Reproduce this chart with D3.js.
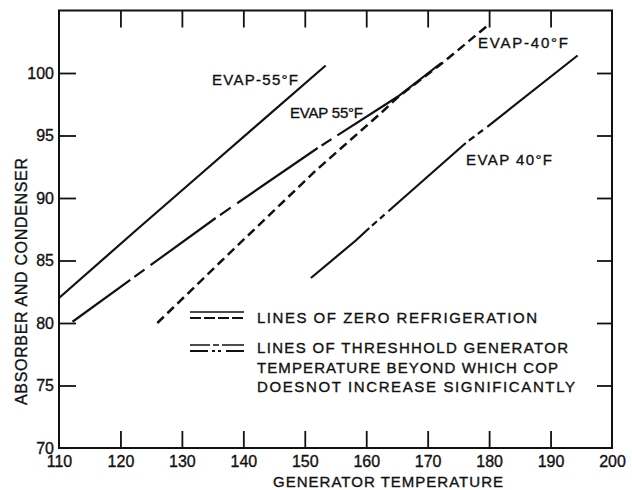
<!DOCTYPE html>
<html>
<head>
<meta charset="utf-8">
<script src="https://cdn.jsdelivr.net/npm/d3@7/dist/d3.min.js"></script>
<style>
  html, body { margin: 0; padding: 0; background: #fff; }
  svg { display: block; }
  text { font-family: "Liberation Sans", Arial, sans-serif; fill: #111; stroke: #111; stroke-width: 0.35px; }
</style>
</head>
<body>
<svg id="chart" width="632" height="490"></svg>
<script>
// Axis ticks
const xTicks = [110, 120, 130, 140, 150, 160, 170, 180, 190, 200];
const yTicks = [70, 75, 80, 85, 90, 95, 100];

// Curve labels
const curveNames = ["EVAP-55°F", "EVAP 55°F", "EVAP-40°F", "EVAP 40°F"];

// EVAP-55°F : solid
const evapNeg55X = [110.0, 122.5, 133.5, 153.4];
const evapNeg55Y = [82.0, 87.4, 92.1, 100.6];

// EVAP 55°F : solid with dash-dot breaks
const evap55X = [112.2, 135.5, 152.1, 165.1, 172.2];
const evap55Y = [80.1, 88.4, 94.0, 98.1, 100.8];
const evap55Breaks = [[121.6, 124.9], [135.5, 139.0], [152.1, 155.3]];

// EVAP-40°F : dashed
const evapNeg40X = [126.0, 136.3, 151.8, 162.4, 165.0, 172.9, 180.0];
const evapNeg40Y = [80.0, 84.9, 92.2, 96.8, 98.0, 101.0, 103.9];

// EVAP 40°F : solid with dash-dot breaks
const evap40X = [151.0, 158.3, 160.5, 176.2, 179.7, 194.4];
const evap40Y = [83.6, 86.6, 87.6, 94.4, 95.7, 101.4];
const evap40Breaks = [[160.5, 163.6], [176.2, 179.7]];

// Legend entries
const legendLines = [
  ["LINES OF ZERO REFRIGERATION"],
  ["LINES OF THRESHHOLD GENERATOR", "TEMPERATURE BEYOND WHICH COP", "DOESNOT INCREASE SIGNIFICANTLY"]
];

const xTitle = "GENERATOR TEMPERATURE";
const yTitle = "ABSORBER AND CONDENSER";

const svg = d3.select("#chart");
const x = d3.scaleLinear().domain([110, 200]).range([59, 612]);
const y = d3.scaleLinear().domain([70, 105]).range([448, 10.5]);

const ink = "#111";

// Frame
svg.append("rect")
  .attr("x", x(110)).attr("y", y(105))
  .attr("width", x(200) - x(110)).attr("height", y(70) - y(105))
  .attr("fill", "none").attr("stroke", ink).attr("stroke-width", 2);

function styleAxis(g) {
  g.select(".domain").remove();
  g.selectAll(".tick line").attr("stroke", ink).attr("stroke-width", 1.8);
  g.selectAll(".tick text").attr("fill", ink).style("font-size", "16px")
    .style("font-family", "Liberation Sans, Arial, sans-serif");
}

// Bottom axis: inward ticks with labels
svg.append("g").attr("transform", `translate(0,${y(70)})`)
  .call(d3.axisBottom(x).tickValues(xTicks).tickSizeInner(-17).tickSizeOuter(0).tickPadding(8).tickFormat(d3.format("d")))
  .call(styleAxis)
  .call(g => g.selectAll(".tick").filter(d => d === 110 || d === 200).select("line").remove());

// Top axis: inward ticks only
svg.append("g").attr("transform", `translate(0,${y(105)})`)
  .call(d3.axisTop(x).tickValues(xTicks.slice(1, -1)).tickSizeInner(-17).tickSizeOuter(0).tickFormat(""))
  .call(styleAxis);

// Left axis: inward ticks with labels
svg.append("g").attr("transform", `translate(${x(110)},0)`)
  .call(d3.axisLeft(y).tickValues(yTicks).tickSizeInner(-17).tickSizeOuter(0).tickPadding(5).tickFormat(d3.format("d")))
  .call(styleAxis)
  .call(g => g.selectAll(".tick").filter(d => d === 70).select("line").remove());

// Right axis: inward ticks only
svg.append("g").attr("transform", `translate(${x(200)},0)`)
  .call(d3.axisRight(y).tickValues(yTicks.slice(1)).tickSizeInner(-15).tickSizeOuter(0).tickFormat(""))
  .call(styleAxis);

// Axis titles
svg.append("text")
  .attr("x", 388).attr("y", 487)
  .attr("text-anchor", "middle")
  .attr("textLength", 230).attr("lengthAdjust", "spacing")
  .style("font-size", "15px")
  .text(xTitle);

svg.append("text")
  .attr("transform", "translate(27,281.5) rotate(-90)")
  .attr("text-anchor", "middle")
  .attr("textLength", 247).attr("lengthAdjust", "spacing")
  .style("font-size", "16px")
  .text(yTitle);

// Curves
const line = d3.line().x(d => x(d[0])).y(d => y(d[1]));
const zipPts = (xs, ys) => xs.map((v, i) => [v, ys[i]]);

// path length (px) along a polyline up to a given data x
function lengthAt(pts, xv) {
  let len = 0;
  for (let i = 1; i < pts.length; i++) {
    const x0 = x(pts[i - 1][0]), y0 = y(pts[i - 1][1]);
    const x1 = x(pts[i][0]), y1 = y(pts[i][1]);
    const seg = Math.hypot(x1 - x0, y1 - y0);
    if (xv <= pts[i][0]) {
      const t = (xv - pts[i - 1][0]) / (pts[i][0] - pts[i - 1][0]);
      return len + seg * Math.max(0, t);
    }
    len += seg;
  }
  return len;
}

// dasharray: solid runs interrupted by a short dash-dot pattern inside each break
function breakDashes(pts, breaks, pattern) {
  const arr = [];
  let pos = 0;
  breaks.forEach(([a, b]) => {
    const la = lengthAt(pts, a), lb = lengthAt(pts, b);
    arr.push(la - pos);
    const span = lb - la;
    pattern.forEach(f => arr.push(span * f));
    pos = lb;
  });
  arr.push(lengthAt(pts, 1e9) - pos + 5, 2000);
  return arr.join(",");
}

const curves = [
  { pts: zipPts(evapNeg55X, evapNeg55Y), dash: null, w: 2.2 },
  { pts: zipPts(evap55X, evap55Y), breaks: evap55Breaks, pattern: [0.2, 0.5, 0.3], w: 2.2 },
  { pts: zipPts(evapNeg40X, evapNeg40Y), dash: "9,5", w: 2.5 },
  { pts: zipPts(evap40X, evap40Y), breaks: evap40Breaks, pattern: [0.14, 0.26, 0.16, 0.24, 0.2], w: 2.2 }
];

curves.forEach(c => {
  const p = svg.append("path")
    .datum(c.pts)
    .attr("d", line)
    .attr("fill", "none")
    .attr("stroke", ink)
    .attr("stroke-width", c.w)
    .attr("stroke-linecap", "butt");
  if (c.dash) p.attr("stroke-dasharray", c.dash);
  if (c.breaks) p.attr("stroke-dasharray", breakDashes(c.pts, c.breaks, c.pattern));
});

// Curve labels
const labelPos = [
  { x: 212, y: 85, w: 86 },
  { x: 290, y: 118, w: 73 },
  { x: 478, y: 48, w: 90 },
  { x: 466, y: 165, w: 86 }
];
curveNames.forEach((name, i) => {
  svg.append("text")
    .attr("x", labelPos[i].x).attr("y", labelPos[i].y)
    .attr("textLength", labelPos[i].w).attr("lengthAdjust", "spacing")
    .style("font-size", "15px")
    .text(name);
});

// Legend
const lg = svg.append("g");
// zero refrigeration: solid over dashed
lg.append("line").attr("x1", 190).attr("x2", 244).attr("y1", 312).attr("y2", 312)
  .attr("stroke", ink).attr("stroke-width", 1.6);
lg.append("line").attr("x1", 190).attr("x2", 244).attr("y1", 318).attr("y2", 318)
  .attr("stroke", ink).attr("stroke-width", 2).attr("stroke-dasharray", "11,3");
// threshold: solid-break over dash-dot
lg.append("line").attr("x1", 190).attr("x2", 244).attr("y1", 345).attr("y2", 345)
  .attr("stroke", ink).attr("stroke-width", 1.6).attr("stroke-dasharray", "20,3,6,3,30");
lg.append("line").attr("x1", 190).attr("x2", 244).attr("y1", 351).attr("y2", 351)
  .attr("stroke", ink).attr("stroke-width", 2).attr("stroke-dasharray", "18,4,3,3,3,5,18");

const legendWidths = [[280], [311, 301, 318]];
const legendBase = [[323], [353, 372.5, 392]];
legendLines.forEach((rows, i) => {
  rows.forEach((txt, j) => {
    lg.append("text")
      .attr("x", 257).attr("y", legendBase[i][j])
      .attr("textLength", legendWidths[i][j]).attr("lengthAdjust", "spacing")
      .style("font-size", "15px")
      .text(txt);
  });
});
</script>
</body>
</html>
